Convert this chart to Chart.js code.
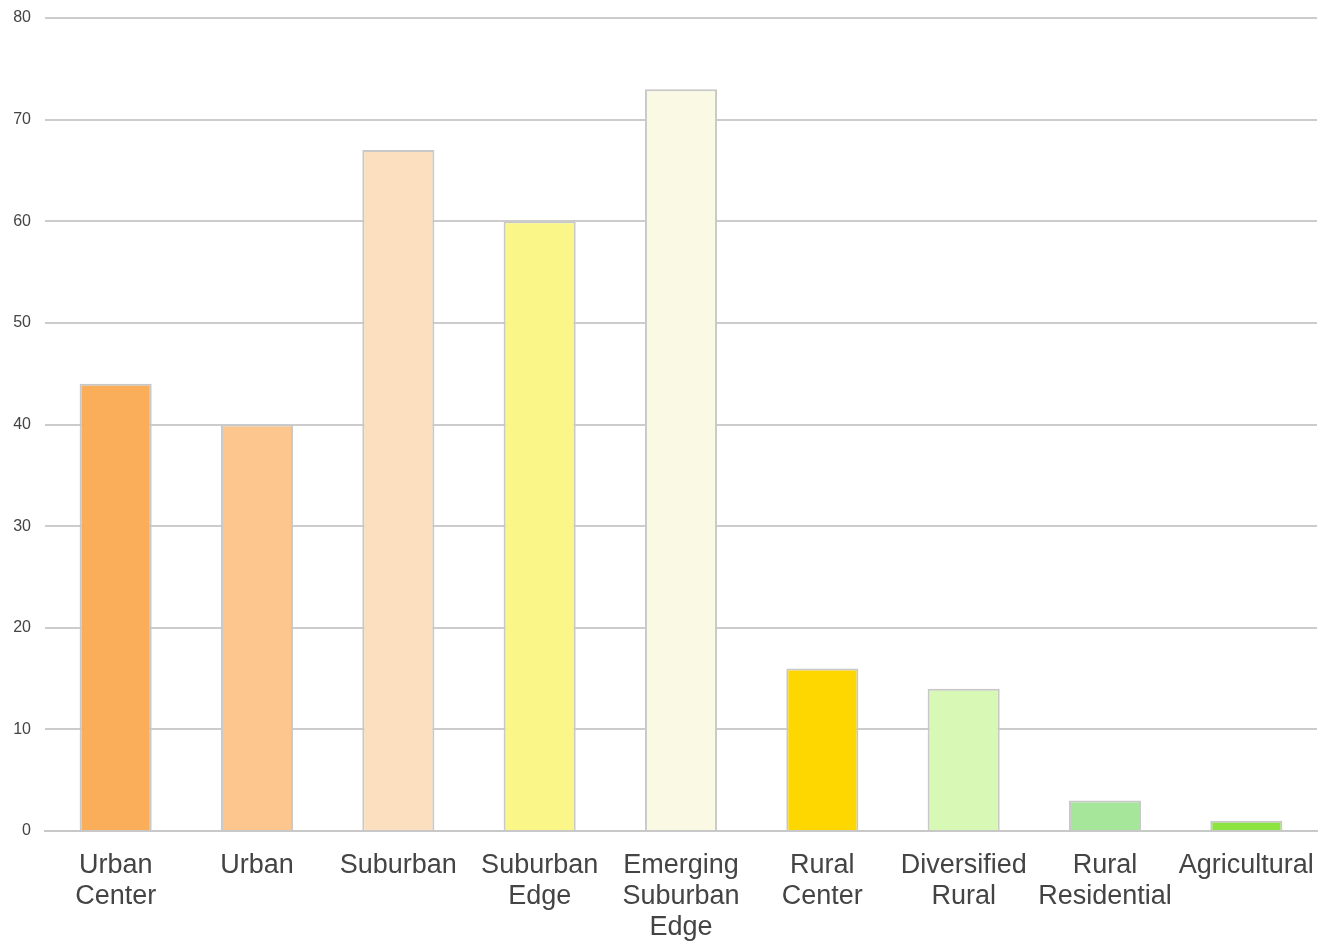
<!DOCTYPE html>
<html>
<head>
<meta charset="utf-8">
<script src="https://cdn.jsdelivr.net/npm/chart.js@4/dist/chart.umd.min.js"></script>
<style>
  html, body { margin: 0; padding: 0; background: #fff; }
  #wrap { width: 1337px; height: 948px; }
</style>
</head>
<body>
<div id="wrap"><canvas id="myChart"></canvas></div>
<script>
var categories = [["Urban", "Center"], "Urban", "Suburban", ["Suburban", "Edge"], ["Emerging", "Suburban", "Edge"],
  ["Rural", "Center"], ["Diversified", "Rural"], ["Rural", "Residential"], "Agricultural"];
var values = [44, 40, 67, 60, 73, 16, 14, 3, 1];
var barColors = ["#fbae5a", "#fdc68e", "#fbdfbe", "#faf688", "#faf9e4", "#ffd700", "#d8f8b6", "#a6e69a", "#8de440"];
var yTicks = [0, 10, 20, 30, 40, 50, 60, 70, 80];

new Chart("myChart", {
  type: "bar",
  data: {
    labels: categories,
    datasets: [{
      data: values,
      backgroundColor: barColors,
      borderColor: "#c8c8c8",
      borderWidth: 2,
      categoryPercentage: 1,
      barPercentage: 0.51
    }]
  },
  options: {
    responsive: true,
    maintainAspectRatio: false,
    animation: false,
    layout: { padding: { top: 18, right: 20, left: 0, bottom: 0 } },
    plugins: {
      legend: { display: false },
      tooltip: { enabled: false }
    },
    scales: {
      x: {
        grid: { display: false },
        border: { color: "#c8c8c8", width: 2 },
        ticks: {
          color: "#444",
          font: { family: "Liberation Sans, Arial", size: 27, lineHeight: 1.15 },
          maxRotation: 0,
          autoSkip: false,
          padding: 11
        },
        afterFit: function (axis) { axis.height = 117; axis.paddingLeft = 0; axis.paddingRight = 0; }
      },
      y: {
        min: 0,
        max: 80,
        afterBuildTicks: function (axis) { axis.ticks = yTicks.map(function (v) { return { value: v }; }); },
        grid: { color: "#cccccc", lineWidth: 2, drawTicks: false },
        border: { display: false },
        ticks: {
          color: "#444",
          font: { family: "Liberation Sans, Arial", size: 16 },
          padding: 14
        },
        afterFit: function (axis) { axis.width = 45; axis.paddingTop = 0; axis.paddingBottom = 0; }
      }
    }
  }
});
</script>
</body>
</html>
